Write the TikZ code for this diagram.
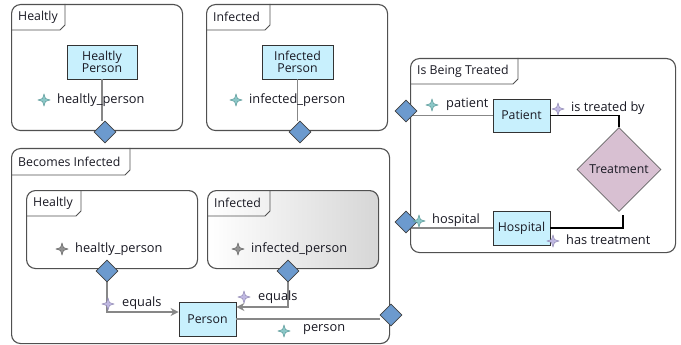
\documentclass[tikz,border=0pt]{standalone}
\usepackage{fontspec}
\setmainfont{Open Sans}
\usetikzlibrary{shapes.geometric,arrows.meta,shadings}
\pgfdeclarelayer{fg}
\pgfsetlayers{main,fg}
\definecolor{boxcyan}{RGB}{200,240,253}
\definecolor{diablue}{RGB}{108,154,206}
\definecolor{treat}{RGB}{216,192,210}
\definecolor{stteal}{RGB}{100,180,180}
\definecolor{stgray}{RGB}{110,110,110}
\definecolor{stpurp}{RGB}{170,160,215}
\definecolor{linegray}{RGB}{135,135,135}
\definecolor{frame}{RGB}{80,80,80}
\definecolor{txt}{RGB}{25,25,35}
\newcommand\mystar[3]{%
  \begin{scope}[shift={(#1,#2)}]
  \filldraw[fill=#3!75, draw=#3!80!black, line width=0.4pt]
    (0,-6) -- (1.5,-1.5) -- (6,0) -- (1.5,1.5) -- (0,6) -- (-1.5,1.5) -- (-6,0) -- (-1.5,-1.5) -- cycle;
  \end{scope}}
\newcommand\mytab[5]{% x0,y0,x1,y1,text
  \draw[frame, line width=0.8pt] (#3,#2) -- (#3,#4-5) -- (#3-5,#4) -- (#1,#4);
  \node[txt, anchor=west, inner sep=0pt, font=\fontsize{12.3}{14}\selectfont] at (#1+7,{(#2+#4)/2}) {#5};}
\begin{document}
\begin{tikzpicture}[x=1pt,y=-1pt,
  panel/.style={draw=frame, line width=1.1pt, fill=white, rounded corners=9pt, anchor=north west, inner sep=0pt},
  cls/.style={draw=black!80, line width=0.8pt, fill=boxcyan, align=center, text=txt, font=\fontsize{12.3}{14}\selectfont, inner sep=2pt},
  dia/.style={diamond, draw=black!75, line width=0.6pt, fill=diablue, minimum width=22pt, minimum height=22pt, inner sep=0pt},
  lbl/.style={anchor=west, text=txt, inner sep=0pt, font=\fontsize{12.8}{14}\selectfont},
  gline/.style={draw=linegray, line width=1.8pt},
  bline/.style={draw=black, line width=1.8pt},
  garrow/.style={gline, -{Stealth[length=8pt,width=8pt]}}
]
\useasboundingbox (0,0) rectangle (681,345);

% panels
\node[panel, minimum width=171pt, minimum height=126pt] (p1) at (11,4) {};
\mytab{11}{4}{65}{30}{Healtly}
\node[panel, minimum width=181pt, minimum height=126pt] (p2) at (206,4) {};
\mytab{206}{4}{270}{30}{Infected}
\node[panel, minimum width=378pt, minimum height=195pt] (p3) at (11,148) {};
\mytab{11}{148}{130}{175}{Becomes Infected}
\node[panel, minimum width=171pt, minimum height=78pt] (p3a) at (26,190) {};
\mytab{26}{190}{81}{216}{Healtly}
\node[panel, minimum width=171pt, minimum height=78pt, left color=white, right color=black!16] (p3b) at (207,190) {};
\mytab{207}{190}{270}{216}{Infected}
\node[panel, minimum width=265pt, minimum height=194pt] (p4) at (410,58) {};
\mytab{410}{58}{518}{84}{Is Being Treated}

% diamonds (foreground)
\begin{pgfonlayer}{fg}
\node[dia] (d1) at (105,132) {};
\node[dia] (d2) at (300,132) {};
\node[dia] (d3) at (107,271) {};
\node[dia] (d4) at (288,271) {};
\node[dia] (d5) at (391,315) {};
\node[dia] (d6) at (406,111) {};
\node[dia] (d7) at (406,222) {};
\end{pgfonlayer}

% class boxes
\node[cls, minimum width=70pt, minimum height=34pt] (hp) at (102,62) {Healtly\\[-2pt]Person};
\node[cls, minimum width=71pt, minimum height=34pt] (ip) at (297.5,62) {Infected\\[-2pt]Person};
\node[cls, minimum width=57pt, minimum height=34pt] (person) at (207.5,319) {Person};
\node[cls, minimum width=57pt, minimum height=33pt] (patient) at (521.5,115.5) {Patient};
\node[cls, minimum width=57pt, minimum height=34pt] (hospital) at (521.5,228) {Hospital};
\node[diamond, draw=black!60, line width=0.6pt, fill=treat, minimum width=84pt, minimum height=84pt, inner sep=0pt, aspect=1, text=txt, font=\fontsize{12.3}{14}\selectfont] (treatment) at (619,169.5) {Treatment};

% connectors
\draw[gline] (hp.south) -- (hp.south |- d1.north);
\draw[gline] (ip.south) -- (ip.south |- d2.north);
\draw[garrow] (d3.center) |- ([yshift=7pt]person.west);
\draw[garrow] (d4.center) |- ([yshift=12pt]person.east);
\draw[gline] (person.east) -- (person.east -| d5.west);
\draw[gline] (d6.center |- patient.west) -- (patient.west);
\draw[gline] (d7.center |- hospital.west) -- (hospital.west);
\draw[bline] (patient.east) -| (treatment.north);
\draw[bline] (hospital.east) -| ([xshift=4pt,yshift=-3pt]treatment.south);

% labels
\mystar{44}{100}{stteal}
\node[lbl] (l1) at (57,100) {healtly\_person};
\mystar{236}{100}{stteal}
\node[lbl] (l2) at (249,100) {infected\_person};
\mystar{62}{249}{stgray}
\node[lbl] (l3) at (75,249) {healtly\_person};
\mystar{238}{249}{stgray}
\node[lbl] (l4) at (251,249) {infected\_person};
\mystar{108}{304}{stpurp}
\node[lbl] (l5) at (122,303) {equals};
\mystar{244}{297}{stpurp}
\node[lbl] (l6) at (258,297) {equals};
\mystar{284}{331}{stteal}
\node[lbl] (l7) at (303,330) {person};
\mystar{432}{105}{stteal}
\node[lbl] (l8) at (446,104) {patient};
\begin{pgfonlayer}{fg}
\mystar{419}{221}{stteal}
\end{pgfonlayer}
\node[lbl] (l9) at (432,220) {hospital};
\mystar{558}{109}{stpurp}
\node[lbl] (l10) at (571,108) {is treated by};
\begin{pgfonlayer}{fg}
\mystar{553}{241}{stpurp}
\end{pgfonlayer}
\node[lbl] (l11) at (566,240) {has treatment};
\end{tikzpicture}
\end{document}
